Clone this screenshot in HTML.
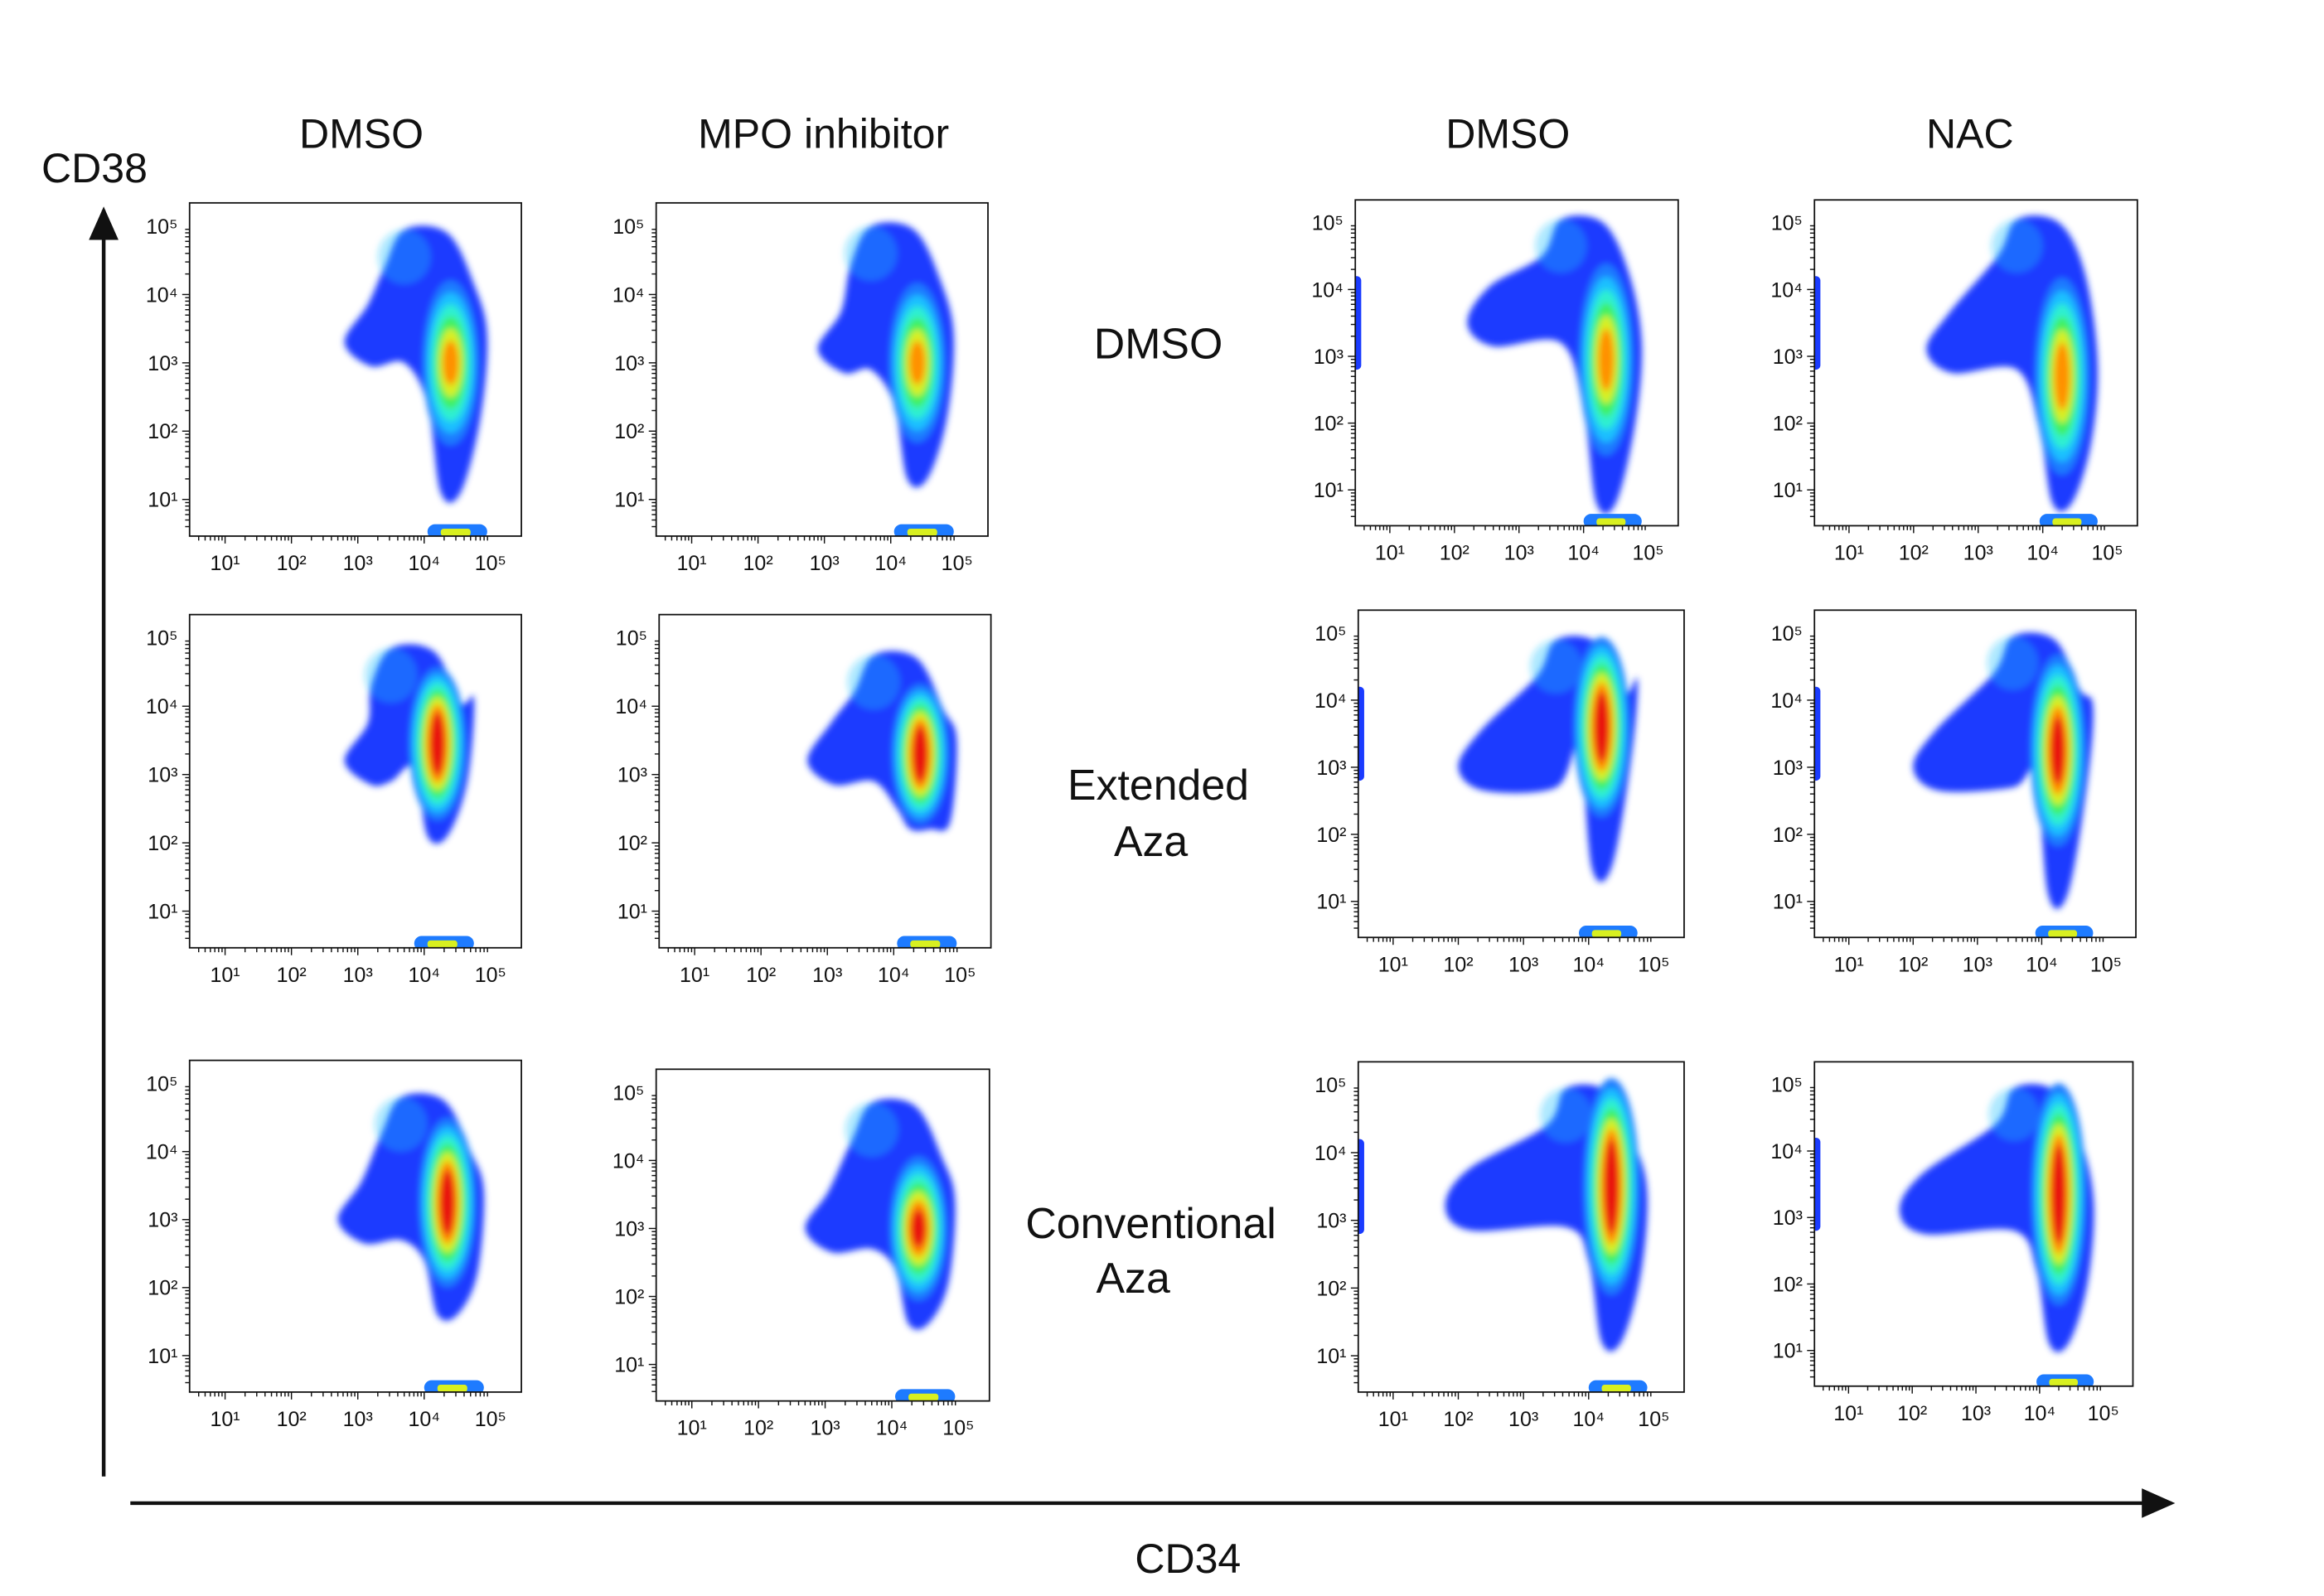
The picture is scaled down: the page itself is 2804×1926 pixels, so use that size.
<!DOCTYPE html>
<html><head><meta charset="utf-8"><style>
html,body{margin:0;padding:0;background:#fff;}
svg{display:block;}
text{font-family:"Liberation Sans","DejaVu Sans",sans-serif;fill:#111;}
</style></head><body>
<svg id="fig" width="2804" height="1926" viewBox="0 0 1569 1077.7" xmlns="http://www.w3.org/2000/svg">
<defs>
<filter id="blur" x="-20%" y="-20%" width="140%" height="140%"><feGaussianBlur stdDeviation="2.2"/></filter>
<marker id="arr" markerWidth="10" markerHeight="10" refX="8" refY="5" orient="auto"><path d="M0,1 L9,5 L0,9 Z" fill="#111"/></marker>
</defs>
<g font-size="28">
<text x="244" y="100" text-anchor="middle">DMSO</text>
<text x="556" y="100" text-anchor="middle">MPO inhibitor</text>
<text x="1018" y="100" text-anchor="middle">DMSO</text>
<text x="1330" y="100" text-anchor="middle">NAC</text>
</g>
<g font-size="29">
<text x="782" y="242" text-anchor="middle">DMSO</text>
<text x="782" y="540" text-anchor="middle">Extended</text>
<text x="777" y="578" text-anchor="middle">Aza</text>
<text x="777" y="836" text-anchor="middle">Conventional</text>
<text x="765" y="873" text-anchor="middle">Aza</text>
</g>
<text x="28" y="123" font-size="28">CD38</text>
<text x="802" y="1062" font-size="28" text-anchor="middle">CD34</text>
<line x1="70" y1="997" x2="70" y2="142" stroke="#111" stroke-width="2.5" marker-end="url(#arr)"/>
<line x1="88" y1="1015" x2="1466" y2="1015" stroke="#111" stroke-width="2.5" marker-end="url(#arr)"/>
<g id="panels"></g>
</svg>
<script>
// panel frames (layout): x, y, w, h
const frames=[[128,137,224,225],[443,137,224,225],[915,135,218,220],[1225,135,218,220],
[128,415,224,225],[445,415,224,225],[917,412,220,221],[1225,412,217,221],
[128,716,224,224],[443,722,225,224],[917,717,220,223],[1225,717,215,219]];
// data (log10 units)
const peakX=[4.4,4.4,4.35,4.3, 4.2,4.4,4.2,4.25, 4.35,4.4,4.35,4.3];
const peakY=[3.0,3.0,2.8,2.5, 3.7,3.1,3.9,3.5, 3.0,3.0,3.0,2.8];
const peak2Y=[3.0,3.0,3.1,2.9, 3.2,3.5,3.3,3.0, 3.5,3.0,4.0,3.9];
const topY=[4.95,5.0,5.05,5.05, 4.85,4.75,4.9,4.95, 4.8,4.85,4.95,4.95];
const bottomY=[1.1,1.3,0.8,0.8, 2.1,2.2,1.5,1.1, 1.6,1.6,1.2,1.1];
const armX=[2.8,2.9,2.2,2.2, 2.8,2.7,2.0,2.0, 2.7,2.7,1.8,1.8];
const armY=[3.3,3.2,3.5,3.1, 3.2,3.2,3.0,3.0, 3.0,3.0,3.2,3.1];
const levels=[6,6,6,6, 7,7,7,7, 7,7,7,7];
const leftEdge=[0,0,1,1, 0,0,1,1, 0,0,1,1];
const tickExp=[1,2,3,4,5];
const sup={1:'¹',2:'²',3:'³',4:'⁴',5:'⁵'};
const colors=['#1a3bff','#1e7bff','#1cc0ff','#2ff0d0','#40f060','#d8f020','#ff9000','#e81010'];
const NS='http://www.w3.org/2000/svg';
const root=document.getElementById('panels');
function mk(t,a,p){const e=document.createElementNS(NS,t);for(const k in a)e.setAttribute(k,a[k]);(p||root).appendChild(e);return e;}
function crPath(pts){let d='';const n=pts.length;for(let i=0;i<n;i++){const p0=pts[(i-1+n)%n],p1=pts[i],p2=pts[(i+1)%n],p3=pts[(i+2)%n];
if(i===0)d+='M'+p1[0].toFixed(1)+','+p1[1].toFixed(1);
const c1=[p1[0]+(p2[0]-p0[0])/6,p1[1]+(p2[1]-p0[1])/6],c2=[p2[0]-(p3[0]-p1[0])/6,p2[1]-(p3[1]-p1[1])/6];
d+=`C${c1[0].toFixed(1)},${c1[1].toFixed(1)} ${c2[0].toFixed(1)},${c2[1].toFixed(1)} ${p2[0].toFixed(1)},${p2[1].toFixed(1)}`;}return d+'Z';}
frames.forEach((f,i)=>{
const [x0,y0,w,h]=f;
const dec=w*0.2, decY=h*0.205;
const sx=v=>x0+w*0.107+(v-1)*dec;
const sy=v=>y0+h*0.07+(5-v)*decY;
const g=mk('g',{});


const clipId='c'+i;
const cp=mk('clipPath',{id:clipId},g);mk('rect',{x:x0,y:y0,width:w,height:h},cp);
const dg=mk('g',{'clip-path':`url(#${clipId})`},g);
const bg=mk('g',{filter:'url(#blur)'},dg);
const px=peakX[i],py=peakY[i],ty=topY[i],by=bottomY[i],ax=armX[i],ay=armY[i];
const hull=[[ax,ay],[ax+0.35,ay+0.55],[px-1.0,ty-0.55],[px-0.7,ty],[px-0.05,ty-0.05],[px+0.35,ty-0.8],[px+0.55,py+0.4],[px+0.45,py-0.8],[px+0.15,by],[px-0.15,by],[px-0.35,py-0.6],[px-0.7,ay-0.3],[ax+0.4,ay-0.35]];
const hp=mk('path',{d:crPath(hull.map(p=>[sx(p[0]),sy(p[1])])),fill:colors[0]},bg);


const lobe=mk('ellipse',{cx:sx(px-0.7),cy:sy(ty-0.4),rx:dec*0.4,ry:decY*0.4,fill:colors[2],opacity:0.35},bg);


const L=levels[i];
for(let k=1;k<=L;k++){
 const t=1-k/(L+1);
 const cy=(py+peak2Y[i])/2;
 const spanY=Math.abs(peak2Y[i]-py)/2;
 const e=mk('ellipse',{cx:sx(px),cy:sy(cy),rx:dec*(0.42*t+0.06),ry:decY*((ty-by)*0.32*t+spanY*0.8+0.15),fill:colors[Math.min(k,colors.length-1)]},bg);
 
 
}
const bb=mk('rect',{x:sx(px-0.35),y:y0+h-8,width:dec*0.9,height:10,rx:5,fill:colors[1]},dg);


mk('rect',{x:sx(px-0.15),y:y0+h-5,width:dec*0.45,height:5,rx:2,fill:colors[5]},dg);
if(leftEdge[i]){const le=mk('rect',{x:x0-3,y:sy(4.2),width:7,height:decY*1.4,rx:3,fill:colors[0]},dg);

}
const fr=mk('rect',{x:x0,y:y0,width:w,height:h,fill:'none',stroke:'#111','stroke-width':1},g);


tickExp.forEach(e=>{
 for(let m=1;m<10;m++){const v=e-1+Math.log10(m);if(v<0.5)continue;
  const X=sx(v),len=m===1?5:3;mk('line',{x1:X,y1:y0+h,x2:X,y2:y0+h+len,stroke:'#111','stroke-width':0.8},g);
  const Y=sy(v);if(Y<y0+h)mk('line',{x1:x0,y1:Y,x2:x0-len,y2:Y,stroke:'#111','stroke-width':0.8},g);}
 const tx=mk('text',{x:sx(e),y:y0+h+23,'font-size':14,'text-anchor':'middle'},g);tx.textContent='10'+sup[e];
 
 
 const ty2=mk('text',{x:x0-8,y:sy(e)+5,'font-size':14,'text-anchor':'end'},g);ty2.textContent='10'+sup[e];
 
 
});
});
</script>
</body></html>
